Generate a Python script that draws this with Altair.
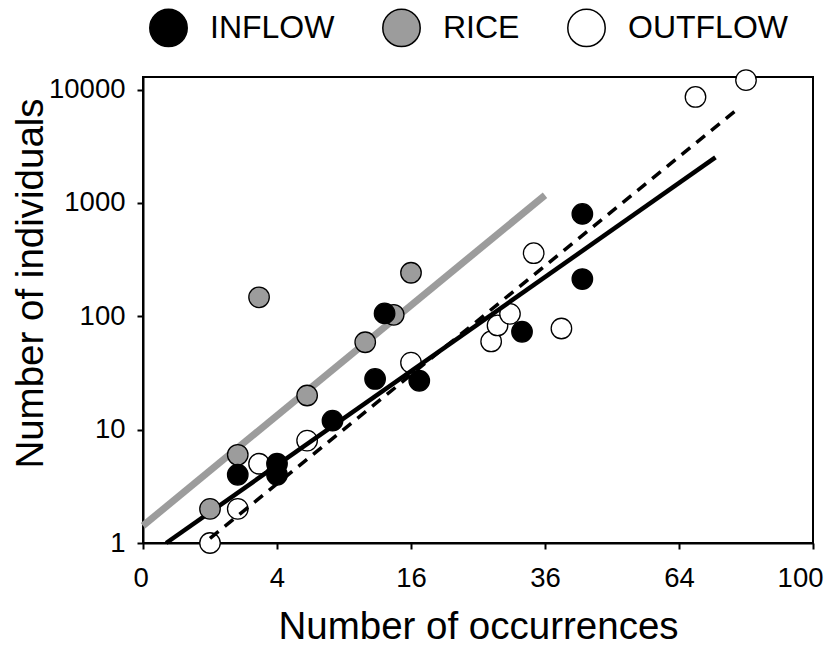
import altair as alt
import pandas as pd

# ---- data ----
inflow_x = [2, 4, 4, 8, 12, 17, 13, 32, 43, 43]
inflow_y = [4, 5, 4, 12, 28, 27, 106, 73, 213, 800]

rice_x = [1, 2, 3, 6, 11, 14, 16]
rice_y = [2, 6, 147, 20, 59, 103, 242]

outflow_x = [1, 2, 3, 6, 16, 27, 28, 30, 39, 34, 68, 81]
outflow_y = [1, 2, 5, 8, 39, 60, 83, 105, 78, 360, 8600, 12100]

# fitted lines (end points, straight in sqrt-x / log-y space)
rice_fit_x = [0, 36]
rice_fit_y = [1.42, 1170]
inflow_fit_x = [0.12, 73]
inflow_fit_y = [1, 2520]
outflow_fit_x = [1, 78.4]
outflow_fit_y = [1.1, 6570]

series_names = ["INFLOW", "RICE", "OUTFLOW"]
series_fill = ["#000000", "#9c9c9c", "#ffffff"]
x_ticks = [0, 4, 16, 36, 64, 100]
y_ticks = [1, 10, 100, 1000, 10000]

FONT = "Liberation Sans, Arial, sans-serif"

def pts(name, xs, ys):
    return pd.DataFrame({"series": name, "x": xs, "y": ys})

df_out = pts("OUTFLOW", outflow_x, outflow_y)
df_top = pd.concat([pts("RICE", rice_x, rice_y), pts("INFLOW", inflow_x, inflow_y)],
                   ignore_index=True)

xscale = alt.Scale(type="sqrt", domain=[0, 100], nice=False)
yscale = alt.Scale(type="log", domain=[1, 12900], nice=False)

xaxis = alt.Axis(values=x_ticks, format="d", title="Number of occurrences",
                 labelFontSize=27.5, titleFontSize=38.5, titleFontWeight="normal",
                 labelFont=FONT, titleFont=FONT, labelColor="black", titleColor="black",
                 tickSize=6, tickWidth=2, domainWidth=2, domainColor="black", tickColor="black",
                 labelPadding=15, titlePadding=17, grid=False,
                 labelFlush=True, labelFlushOffset=10)
yaxis = alt.Axis(values=y_ticks, format="d", title="Number of individuals",
                 labelFontSize=27.5, titleFontSize=38.5, titleFontWeight="normal",
                 labelFont=FONT, titleFont=FONT, labelColor="black", titleColor="black",
                 tickSize=6, tickWidth=2, domainWidth=2, domainColor="black", tickColor="black",
                 labelPadding=12, titleX=-113, titleY=206, titleAngle=270,
                 titleAlign="center", titleBaseline="middle", grid=False, labelFlush=False)

fill_enc = alt.Fill("series:N",
                    scale=alt.Scale(domain=series_names, range=series_fill),
                    legend=alt.Legend(title=None, orient="none", direction="horizontal",
                                      legendX=6, legendY=-69, symbolSize=1400,
                                      symbolType="circle", symbolStrokeColor="black",
                                      symbolStrokeWidth=1.5, labelFontSize=32,
                                      labelFont=FONT, labelLimit=0,
                                      labelColor="black", labelOffset=22, columnPadding=44,
                                      padding=0))

def point_layer(df):
    return alt.Chart(df).mark_point(filled=True, shape="circle", size=420,
                                    stroke="black", strokeWidth=1.3, opacity=1).encode(
        x=alt.X("x:Q", scale=xscale, axis=xaxis),
        y=alt.Y("y:Q", scale=yscale, axis=yaxis),
        fill=fill_enc,
    )

def line_layer(xs, ys, color, width, dash=None):
    kw = dict(color=color, strokeWidth=width, strokeCap="butt")
    if dash:
        kw["strokeDash"] = dash
    return alt.Chart(pd.DataFrame({"x": xs, "y": ys})).mark_line(**kw).encode(
        x=alt.X("x:Q", scale=xscale, axis=xaxis),
        y=alt.Y("y:Q", scale=yscale, axis=yaxis),
    )

chart = alt.layer(
    point_layer(df_out),
    line_layer(inflow_fit_x, inflow_fit_y, "black", 4.5),
    line_layer(outflow_fit_x, outflow_fit_y, "black", 3.5, [11, 8]),
    line_layer(rice_fit_x, rice_fit_y, "#9c9c9c", 7),
    point_layer(df_top),
).properties(
    width=670, height=466,
    autosize=alt.AutoSizeParams(type="none"),
    padding={"left": 135, "top": 69, "right": 17, "bottom": 103},
).configure_view(stroke="black", strokeWidth=2)

chart.save("out.html", embed_options={"renderer": "svg", "actions": False})
